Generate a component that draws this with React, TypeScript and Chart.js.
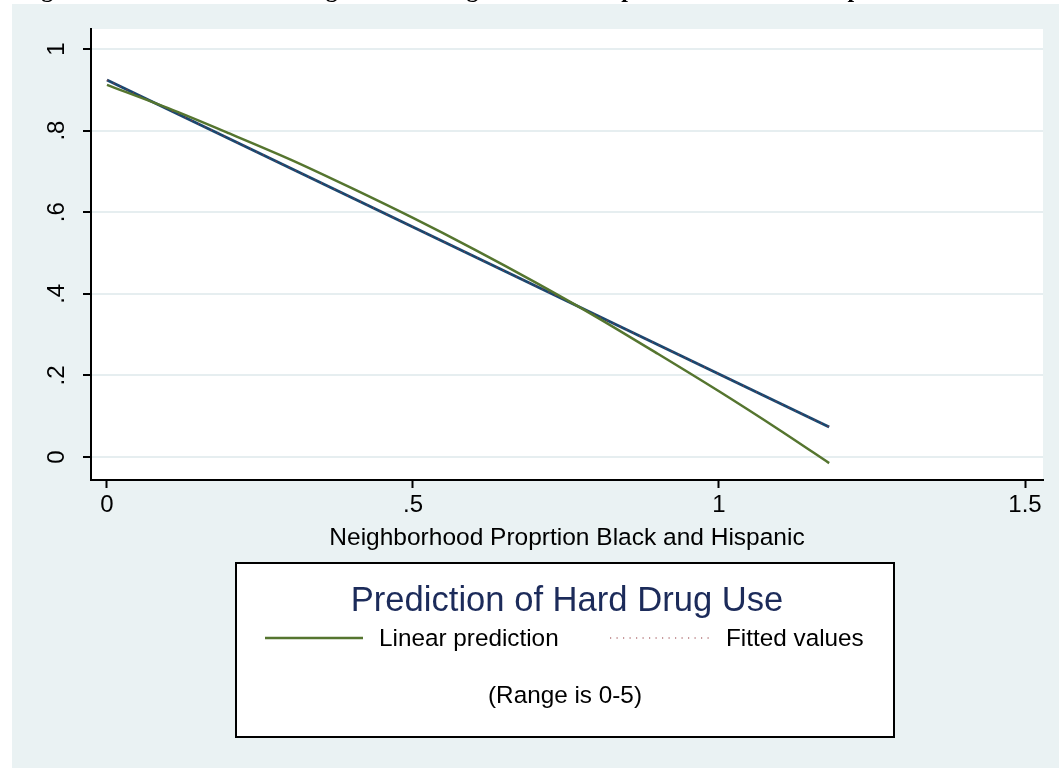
import React, { useEffect, useRef } from "react";
import { Chart, registerables } from "chart.js";

Chart.register(...registerables);

// ---- text ----
const PAGE_TITLE = "Figure 2: Predicted Hard Drug Use and Neighborhood Proportion Black and Hispanic";
const X_TITLE = "Neighborhood Proprtion Black and Hispanic";
const LEGEND_TITLE = "Prediction of Hard Drug Use";
const LEGEND_NOTE = "(Range is 0-5)";
const SERIES_NAMES = ["Linear prediction", "Fitted values"];

// ---- ticks ----
const X_TICKS = [0, 0.5, 1, 1.5];
const X_TICK_LABELS = ["0", ".5", "1", "1.5"];
const Y_TICKS = [0, 0.2, 0.4, 0.6, 0.8, 1];
const Y_TICK_LABELS = ["0", ".2", ".4", ".6", ".8", "1"];

// ---- data ----
const PRED_X = [0, 0.1, 0.2, 0.3, 0.4, 0.5, 0.6, 0.7, 0.8, 0.9, 1.0, 1.1, 1.18];
const PRED_Y = [0.912, 0.855, 0.793, 0.729, 0.659, 0.586, 0.509, 0.428, 0.343, 0.253, 0.161, 0.065, -0.015];
const FIT_X = [0, 1.18];
const FIT_Y = [0.924, 0.0735];

// ---- style ----
const FONT = "'Liberation Sans', Arial, Helvetica, sans-serif";
const GREEN = "#55752f";
const NAVY = "#1a476f";
const MAROON = "#90353b";
const BG = "#eaf2f3";
const GRID = "#e6eef0";
const LEGEND_TITLE_COLOR = "#1c2b5a";

const pts = (xs: number[], ys: number[]) => xs.map((x, i) => ({ x, y: ys[i] }));

const backgroundPlugin = {
  id: "stataBackground",
  beforeDraw(chart: any) {
    const { ctx, width, height, chartArea } = chart;
    ctx.save();
    ctx.fillStyle = "#ffffff";
    ctx.fillRect(0, 0, width, height);
    // cut-off page title above the graph
    ctx.fillStyle = "#000";
    ctx.font = "bold 24px 'Liberation Serif', 'Times New Roman', serif";
    ctx.textBaseline = "alphabetic";
    ctx.textAlign = "left";
    ctx.fillText(PAGE_TITLE, 20, -3);
    // graph region
    ctx.fillStyle = BG;
    ctx.fillRect(12, 4, width - 12, height - 4);
    // plot region
    ctx.fillStyle = "#ffffff";
    ctx.fillRect(chartArea.left, chartArea.top, chartArea.right - chartArea.left, chartArea.bottom - chartArea.top);
    ctx.restore();
  },
};

const yLabelPlugin = {
  id: "rotatedYLabels",
  afterDraw(chart: any) {
    const { ctx } = chart;
    const yScale = chart.scales.y;
    ctx.save();
    ctx.fillStyle = "#000";
    ctx.font = `24px ${FONT}`;
    ctx.textAlign = "center";
    ctx.textBaseline = "middle";
    Y_TICKS.forEach((v, i) => {
      const py = yScale.getPixelForValue(v);
      ctx.save();
      ctx.translate(57.5, py);
      ctx.rotate(-Math.PI / 2);
      ctx.fillText(Y_TICK_LABELS[i], 0, 0);
      ctx.restore();
    });
    ctx.restore();
  },
};

const legendPlugin = {
  id: "stataLegend",
  afterDraw(chart: any) {
    const { ctx } = chart;
    const L = 236, T = 563, R = 894, B = 737;
    ctx.save();
    ctx.fillStyle = "#ffffff";
    ctx.fillRect(L, T, R - L, B - T);
    ctx.strokeStyle = "#000";
    ctx.lineWidth = 2;
    ctx.strokeRect(L, T, R - L, B - T);

    const cx = (L + R) / 2;
    ctx.textBaseline = "middle";
    ctx.textAlign = "center";
    ctx.fillStyle = LEGEND_TITLE_COLOR;
    ctx.font = `34.6px ${FONT}`;
    ctx.fillText(LEGEND_TITLE, cx + 2, 601);

    // key 1
    ctx.strokeStyle = GREEN;
    ctx.lineWidth = 2.5;
    ctx.setLineDash([]);
    ctx.beginPath();
    ctx.moveTo(265, 638);
    ctx.lineTo(363, 638);
    ctx.stroke();
    ctx.fillStyle = "#000";
    ctx.font = `24.3px ${FONT}`;
    ctx.textAlign = "left";
    ctx.fillText(SERIES_NAMES[0], 379, 639.5);

    // key 2
    ctx.strokeStyle = MAROON;
    ctx.lineWidth = 1.2;
    ctx.setLineDash([1.2, 5.3]);
    ctx.beginPath();
    ctx.moveTo(610, 638);
    ctx.lineTo(710, 638);
    ctx.stroke();
    ctx.setLineDash([]);
    ctx.fillText(SERIES_NAMES[1], 726, 639.5);

    // note
    ctx.textAlign = "center";
    ctx.fillText(LEGEND_NOTE, cx, 696.5);
    ctx.restore();
  },
};

export default function App() {
  const canvasRef = useRef<HTMLCanvasElement | null>(null);

  useEffect(() => {
    if (!canvasRef.current) return;
    const chart = new Chart(canvasRef.current, {
      type: "scatter",
      data: {
        datasets: [
          {
            label: "Linear fit",
            data: pts(FIT_X, FIT_Y),
            showLine: true,
            borderColor: NAVY,
            borderWidth: 3,
            pointRadius: 0,
            order: 3,
          },
          {
            label: SERIES_NAMES[1],
            data: pts(FIT_X, FIT_Y),
            showLine: true,
            borderColor: MAROON,
            borderWidth: 1.2,
            borderDash: [1.2, 6],
            pointRadius: 0,
            order: 2,
          },
          {
            label: SERIES_NAMES[0],
            data: pts(PRED_X, PRED_Y),
            showLine: true,
            borderColor: GREEN,
            borderWidth: 2.5,
            pointRadius: 0,
            tension: 0.3,
            order: 1,
          },
        ],
      },
      options: {
        animation: false,
        responsive: false,
        maintainAspectRatio: false,
        devicePixelRatio: 1,
        layout: { padding: { left: 0, right: 16, top: 29, bottom: 215 } },
        plugins: {
          legend: { display: false },
          tooltip: { enabled: false },
          title: { display: false },
        },
        scales: {
          x: {
            type: "linear",
            position: "bottom",
            min: -0.0261,
            max: 1.5294,
            afterBuildTicks: (s: any) => {
              s.ticks = X_TICKS.map((v) => ({ value: v }));
            },
            afterFit: (s: any) => {
              s.height = 73;
            },
            ticks: {
              callback: (_v: any, i: number) => X_TICK_LABELS[i],
              font: { family: FONT, size: 24 },
              color: "#000",
              padding: 3,
              maxRotation: 0,
              minRotation: 0,
              autoSkip: false,
            },
            grid: {
              drawOnChartArea: false,
              tickColor: "#000",
              tickLength: 8,
              tickWidth: 2,
            },
            border: { color: "#000", width: 2 },
            title: {
              display: true,
              text: X_TITLE,
              font: { family: FONT, size: 24.5 },
              color: "#000",
              padding: { top: 0, bottom: 0 },
            },
          },
          y: {
            type: "linear",
            position: "left",
            min: -0.0564,
            max: 1.049,
            afterBuildTicks: (s: any) => {
              s.ticks = Y_TICKS.map((v) => ({ value: v }));
            },
            afterFit: (s: any) => {
              s.width = 91;
            },
            ticks: {
              callback: (_v: any, i: number) => Y_TICK_LABELS[i],
              font: { family: FONT, size: 24 },
              color: "rgba(0,0,0,0)",
              autoSkip: false,
            },
            grid: {
              color: GRID,
              lineWidth: 2,
              tickColor: "#000",
              tickLength: 8,
              tickWidth: 2,
            },
            border: { color: "#000", width: 2 },
          },
        },
      },
      plugins: [backgroundPlugin, yLabelPlugin, legendPlugin],
    } as any);
    return () => chart.destroy();
  }, []);

  return (
    <div style={{ position: "absolute", left: 0, top: 0, width: 1059, height: 768 }}>
      <canvas ref={canvasRef} width={1059} height={768} style={{ display: "block" }} />
    </div>
  );
}
